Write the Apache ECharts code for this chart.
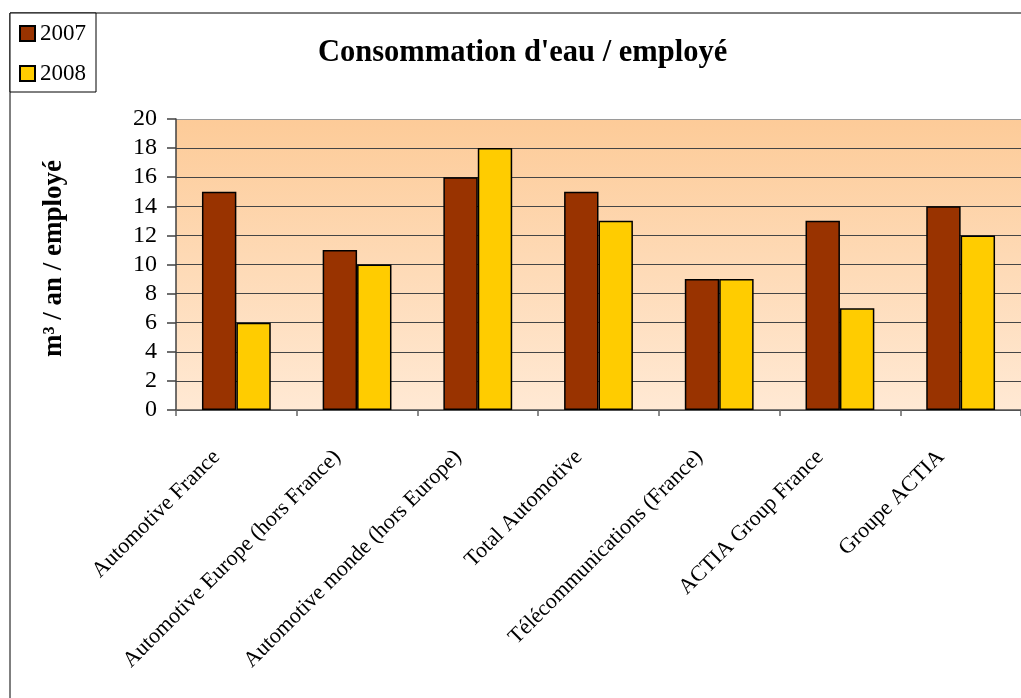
<!DOCTYPE html>
<html>
<head>
<meta charset="utf-8">
<script src="https://cdn.jsdelivr.net/npm/echarts@6/dist/echarts.min.js"></script>
<style>
html,body{margin:0;padding:0;background:#fff;}
#c{width:1021px;height:698px;}
</style>
</head>
<body>
<div id="c"></div>
<script>
const categories = ["Automotive France", "Automotive Europe (hors France)", "Automotive monde (hors Europe)", "Total Automotive", "Télécommunications (France)", "ACTIA Group France", "Groupe ACTIA"];
const seriesNames = ["2007", "2008"];
const values2007 = [15, 11, 16, 15, 9, 13, 14];
const values2008 = [6, 10, 18, 13, 9, 7, 12];
const titleText = "Consommation d'eau / employé";
const yTitle = "m³ / an / employé";

const FONT = '"Liberation Serif", "Times New Roman", serif';
const chart = echarts.init(document.getElementById('c'), null, {renderer: 'canvas'});
const gridColors = [];
for (let i = 0; i < 10; i++) gridColors.push('#454545');
gridColors.push('#9a9a9a');

chart.setOption({
  animation: false,
  backgroundColor: '#ffffff',
  title: {
    text: titleText,
    left: 313, top: 33,
    textStyle: {fontFamily: FONT, fontSize: 30.5, fontWeight: 'bold', color: '#000'}
  },
  legend: {
    orient: 'vertical',
    left: 10, top: 13,
    padding: [9, 10, 7, 9],
    itemGap: 17,
    itemWidth: 15, itemHeight: 15,
    icon: 'rect',
    borderColor: '#000', borderWidth: 1,
    backgroundColor: '#fff',
    textStyle: {fontFamily: FONT, fontSize: 23, color: '#000'},
    data: seriesNames
  },
  graphic: [{
    type: 'rect', z: -1, silent: true,
    shape: {x: 10, y: 13, width: 1100, height: 800},
    style: {fill: 'none', stroke: '#000', lineWidth: 1}
  }],
  grid: {
    left: 176, top: 119, width: 847, height: 291,
    show: true, borderWidth: 0,
    backgroundColor: new echarts.graphic.LinearGradient(0, 0, 0, 1, [
      {offset: 0, color: '#FDCB98'},
      {offset: 1, color: '#FFE9D4'}
    ])
  },
  xAxis: {
    type: 'category',
    data: categories,
    axisLine: {show: true, lineStyle: {color: '#555555', width: 1.5}},
    axisTick: {show: true, length: 6, lineStyle: {color: '#666666', width: 1.5}},
    axisLabel: {
      interval: 0, rotate: 45, margin: 24,
      padding: [0, 28, 0, 0],
      fontFamily: FONT, fontSize: 22, color: '#000'
    },
    splitLine: {show: false}
  },
  yAxis: {
    type: 'value',
    min: 0, max: 20, interval: 2,
    name: yTitle,
    nameLocation: 'middle',
    nameGap: 108,
    nameTextStyle: {fontFamily: FONT, fontSize: 27, fontWeight: 'bold', color: '#000', padding: [0, 0, 0, 12]},
    axisLine: {show: true, lineStyle: {color: '#404040', width: 1.5}},
    axisTick: {show: true, length: 9, lineStyle: {color: '#404040', width: 1.5}},
    axisLabel: {margin: 19, fontFamily: FONT, fontSize: 24, color: '#000'},
    splitLine: {show: true, lineStyle: {color: gridColors, width: 1.2}}
  },
  series: [{
    name: seriesNames[0], type: 'bar', data: values2007,
    barGap: '0%', barCategoryGap: '43%',
    itemStyle: {color: '#993300', borderColor: '#000', borderWidth: 1.5}
  }, {
    name: seriesNames[1], type: 'bar', data: values2008,
    barGap: '0%', barCategoryGap: '43%',
    itemStyle: {color: '#FFCC00', borderColor: '#000', borderWidth: 1.5}
  }]
});
</script>
</body>
</html>
